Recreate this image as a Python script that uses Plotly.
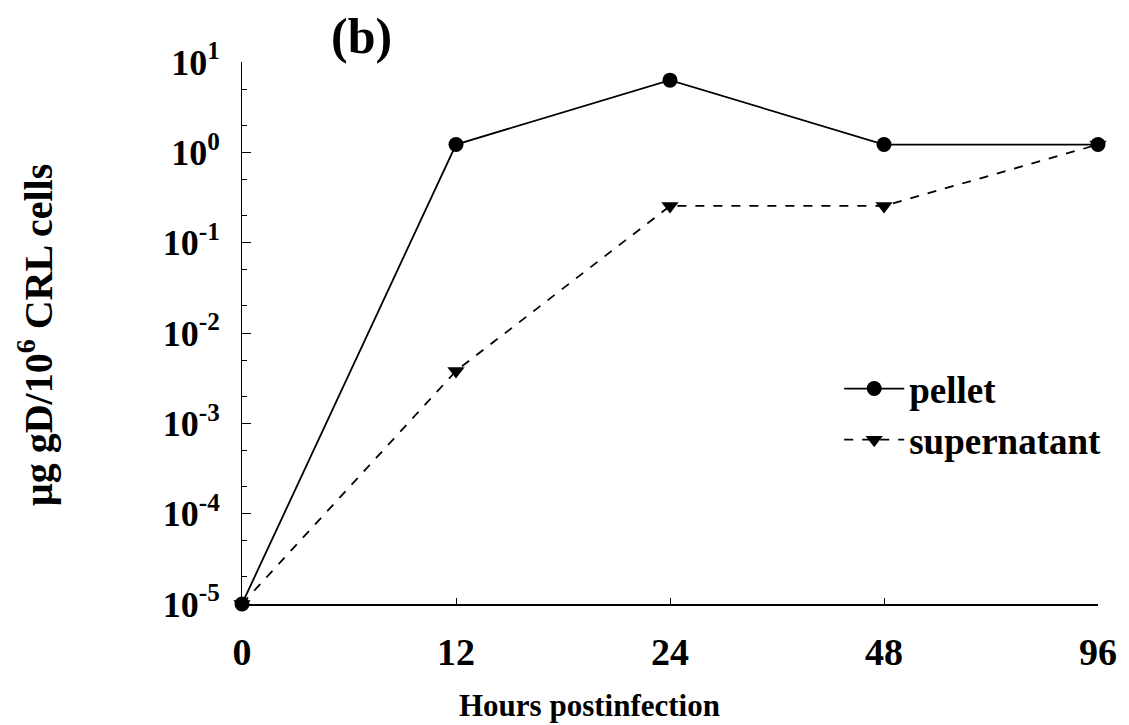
import plotly.graph_objects as go

hours = ["0", "12", "24", "48", "96"]
pellet = [1e-5, 1.22, 6.3, 1.22, 1.22]
supernatant = [1e-5, 0.0038, 0.255, 0.255, 1.22]
ytick_vals = [1e-5, 1e-4, 1e-3, 1e-2, 1e-1, 1, 10]
ytick_text = ["10<sup>-5</sup>", "10<sup>-4</sup>", "10<sup>-3</sup>", "10<sup>-2</sup>",
              "10<sup>-1</sup>", "10<sup>0</sup>", "10<sup>1</sup>"]

FONT = "Liberation Serif"
xpos = list(range(len(hours)))

W, H = 1129, 725
L, R, T, B = 242, 27, 62, 121
PW, PH = W - L - R, H - T - B


def px(x):
    return (x - L) / PW


def py(y):
    return (H - B - y) / PH


fig = go.Figure()
fig.add_trace(go.Scatter(
    x=xpos, y=pellet, name="pellet", mode="lines+markers",
    line=dict(color="black", width=1.8, dash="solid"),
    marker=dict(symbol="circle", size=15, color="black"),
    cliponaxis=False, legendgroup="a"))
fig.add_trace(go.Scatter(
    x=xpos, y=supernatant, name="supernatant", mode="lines+markers",
    line=dict(color="black", width=1.8, dash="dash"),
    marker=dict(symbol="triangle-down", size=15, color="black"),
    cliponaxis=False, legendgroup="b"))

fig.update_layout(
    width=W, height=H,
    margin=dict(l=L, r=R, t=T, b=B),
    paper_bgcolor="white", plot_bgcolor="white",
    font=dict(family=FONT, color="black", size=26, weight="bold"),
    showlegend=True,
    legend=dict(x=px(842), y=py(358), xanchor="left", yanchor="top",
                font=dict(family=FONT, size=37, weight="bold"),
                traceorder="grouped", tracegroupgap=0,
                bgcolor="rgba(0,0,0,0)", itemwidth=60),
    xaxis=dict(range=[0, 4], tickvals=xpos, ticktext=hours,
               showline=True, linecolor="black", linewidth=1.5,
               ticks="inside", ticklen=6, tickcolor="black",
               showgrid=False, zeroline=False,
               tickfont=dict(family=FONT, size=38, weight="bold"),
               ticklabelstandoff=14),
    yaxis=dict(type="log", range=[-5, 1], tickvals=ytick_vals, ticktext=ytick_text,
               showline=True, linecolor="black", linewidth=1,
               ticks="inside", ticklen=9, tickcolor="black",
               minor=dict(ticks="inside", ticklen=5, tickcolor="black", showgrid=False),
               showgrid=False, zeroline=False,
               tickfont=dict(family=FONT, size=36, weight="bold"),
               ticklabelstandoff=14),
    annotations=[
        dict(text="(b)", x=px(362), y=py(36), xref="paper", yref="paper",
             xanchor="center", yanchor="middle", showarrow=False,
             font=dict(family=FONT, size=50, weight="bold")),
        dict(text="μg gD/10<sup>6</sup> CRL cells", textangle=-90,
             x=px(34), y=py(335), xref="paper", yref="paper",
             xanchor="center", yanchor="middle", showarrow=False,
             font=dict(family=FONT, size=40, weight="bold")),
        dict(text="Hours postinfection", x=px(591), y=py(705), xref="paper", yref="paper",
             xanchor="center", yanchor="middle", showarrow=False,
             font=dict(family=FONT, size=31, weight="bold")),
    ],
)

fig.write_html("out.html")
